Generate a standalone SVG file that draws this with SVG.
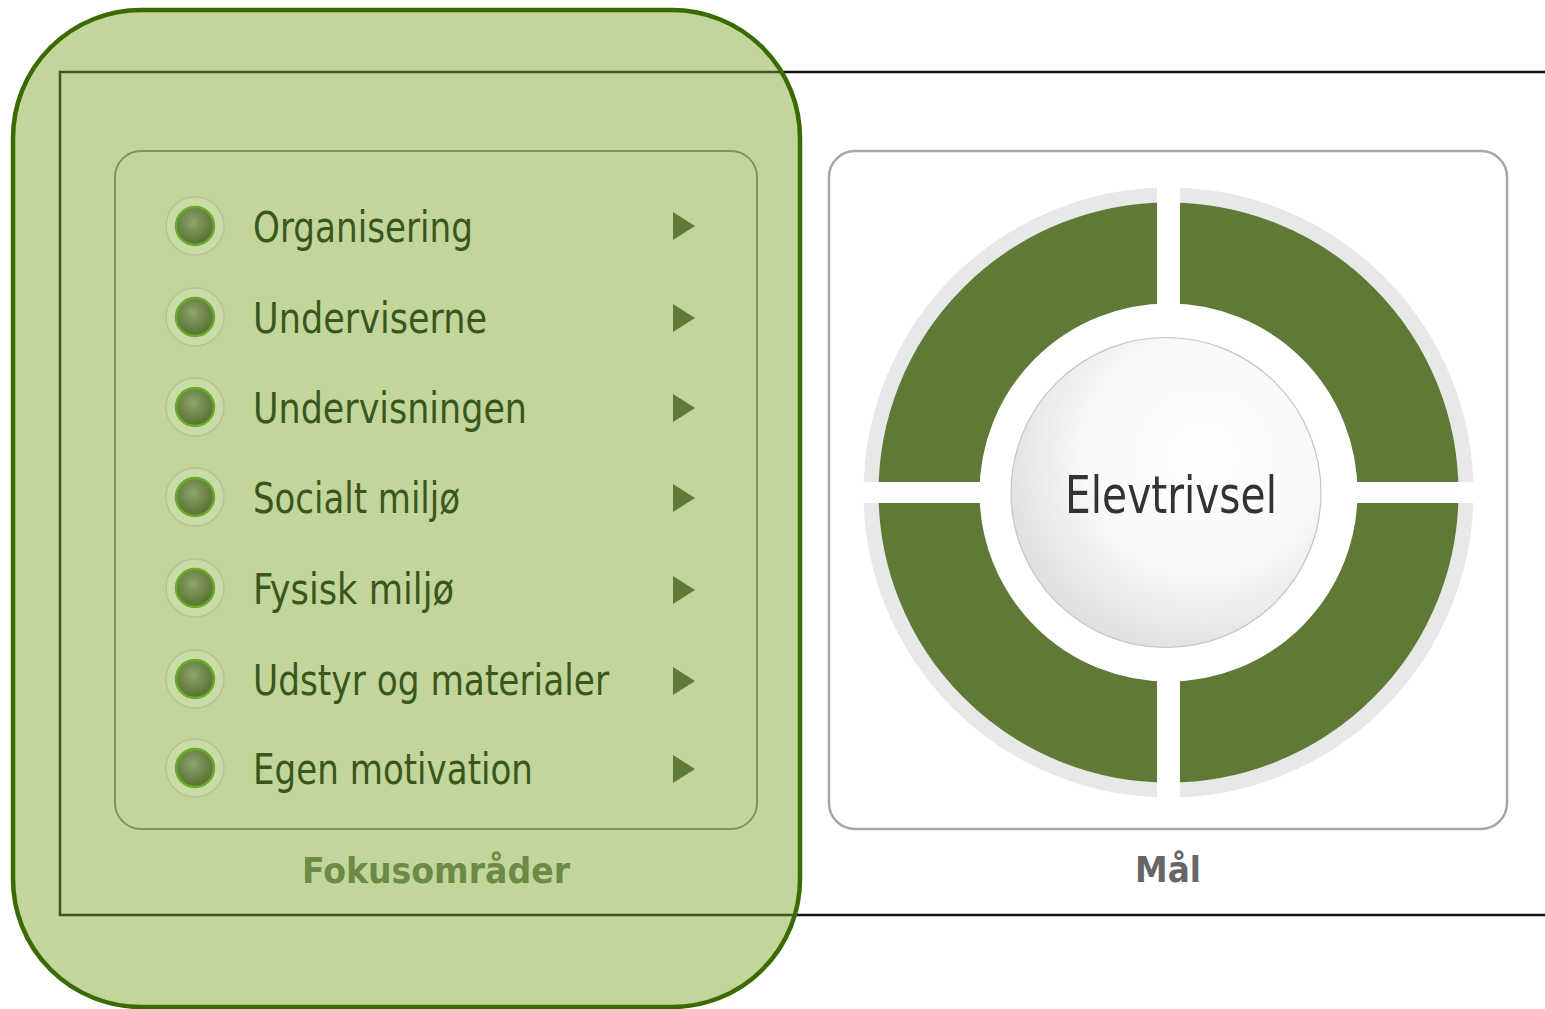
<svg xmlns="http://www.w3.org/2000/svg" width="1545" height="1009" viewBox="0 0 1545 1009">
<style>
.item{font-family:"DejaVu Sans Condensed","DejaVu Sans",sans-serif;font-size:42px;fill:#3b561d}
.cap{font-family:"DejaVu Sans Condensed","DejaVu Sans",sans-serif;font-size:35px;font-weight:bold}
.arrow{fill:#5f7a3a}
.halo{fill:#c9dca8;stroke:#b2c68e;stroke-width:1.5}
.ringb{fill:url(#ball);stroke:#6aab2c;stroke-width:2.5}
</style>
<defs>
<clipPath id="greenClip"><rect x="13" y="10" width="787" height="997" rx="128" ry="128"/></clipPath>
<radialGradient id="ball" cx="0.45" cy="0.4" r="0.6">
<stop offset="0" stop-color="#8fa46c"/>
<stop offset="1" stop-color="#55712f"/>
</radialGradient>
<radialGradient id="sphere" cx="0.62" cy="0.38" r="0.7">
<stop offset="0" stop-color="#ffffff"/>
<stop offset="0.55" stop-color="#f8f8f8"/>
<stop offset="1" stop-color="#dcdcdc"/>
</radialGradient>
</defs>
<rect width="1545" height="1009" fill="#ffffff"/>
<!-- outer frame -->
<rect x="60" y="72" width="1510" height="843" fill="none" stroke="#111" stroke-width="2.5"/>
<!-- right panel: goal -->
<g id="goal-panel">
<rect x="829" y="151" width="678" height="678" rx="26" ry="26" fill="#fff" stroke="#a6a6a6" stroke-width="2.5"/>
<text class="cap" x="1168" y="882" text-anchor="middle" fill="#666" textLength="66" lengthAdjust="spacingAndGlyphs">Mål</text>
</g>
<g id="ring">
<circle cx="1168.5" cy="492.5" r="297.5" fill="none" stroke="#e7e9e9" stroke-width="15"/>
<circle cx="1168.5" cy="492.5" r="239.5" fill="none" stroke="#5e7a36" stroke-width="101"/>
<rect x="1157" y="180" width="23" height="630" fill="#fff"/>
<rect x="856" y="482" width="630" height="21" fill="#fff"/>
</g>
<g id="elevtrivsel">
<circle cx="1166" cy="492.5" r="155" fill="url(#sphere)" stroke="#c4c4c4" stroke-width="1.2"/>
<text x="1171" y="513" text-anchor="middle" font-family="DejaVu Sans Condensed, DejaVu Sans, sans-serif" font-size="51" fill="#333" textLength="212" lengthAdjust="spacingAndGlyphs">Elevtrivsel</text>
</g>
<!-- green highlight region -->
<g id="focus-highlight">
<rect x="13" y="10" width="787" height="997" rx="128" ry="128" fill="#c2d69b"/>
<g clip-path="url(#greenClip)">
<rect x="60" y="72" width="1510" height="843" fill="none" stroke="#3c561c" stroke-width="2.5"/>
</g>
</g>
<g id="focus-panel">
<rect x="115" y="151" width="642" height="678" rx="26" ry="26" fill="none" stroke="#7c9459" stroke-width="2"/>
<text class="cap" x="436" y="883" text-anchor="middle" fill="#6b8a45" textLength="268" lengthAdjust="spacingAndGlyphs">Fokusområder</text>
</g>
<g id="item-organisering">
<circle class="halo" cx="195" cy="226" r="29"/><circle class="ringb" cx="195" cy="226" r="19"/>
<text class="item" x="253" y="242" textLength="220" lengthAdjust="spacingAndGlyphs">Organisering</text>
<polygon class="arrow" points="673,212 695,226 673,240"/>
</g>
<g id="item-underviserne">
<circle class="halo" cx="195" cy="317" r="29"/><circle class="ringb" cx="195" cy="317" r="19"/>
<text class="item" x="253" y="333" textLength="234" lengthAdjust="spacingAndGlyphs">Underviserne</text>
<polygon class="arrow" points="673,304 695,318 673,332"/>
</g>
<g id="item-undervisningen">
<circle class="halo" cx="195" cy="407" r="29"/><circle class="ringb" cx="195" cy="407" r="19"/>
<text class="item" x="253" y="423" textLength="274" lengthAdjust="spacingAndGlyphs">Undervisningen</text>
<polygon class="arrow" points="673,394 695,408 673,422"/>
</g>
<g id="item-socialt">
<circle class="halo" cx="195" cy="497" r="29"/><circle class="ringb" cx="195" cy="497" r="19"/>
<text class="item" x="253" y="513" textLength="207" lengthAdjust="spacingAndGlyphs">Socialt miljø</text>
<polygon class="arrow" points="673,484 695,498 673,512"/>
</g>
<g id="item-fysisk">
<circle class="halo" cx="195" cy="588" r="29"/><circle class="ringb" cx="195" cy="588" r="19"/>
<text class="item" x="253" y="604" textLength="201" lengthAdjust="spacingAndGlyphs">Fysisk miljø</text>
<polygon class="arrow" points="673,576 695,590 673,604"/>
</g>
<g id="item-udstyr">
<circle class="halo" cx="195" cy="679" r="29"/><circle class="ringb" cx="195" cy="679" r="19"/>
<text class="item" x="253" y="695" textLength="356" lengthAdjust="spacingAndGlyphs">Udstyr og materialer</text>
<polygon class="arrow" points="673,667 695,681 673,695"/>
</g>
<g id="item-motivation">
<circle class="halo" cx="195" cy="768" r="29"/><circle class="ringb" cx="195" cy="768" r="19"/>
<text class="item" x="253" y="784" textLength="280" lengthAdjust="spacingAndGlyphs">Egen motivation</text>
<polygon class="arrow" points="673,755 695,769 673,783"/>
</g>
<g id="focus-border">
<rect x="13" y="10" width="787" height="997" rx="128" ry="128" fill="none" stroke="#3b6b00" stroke-width="4.5"/>
</g>
<g id="connectors"/>
</svg>
